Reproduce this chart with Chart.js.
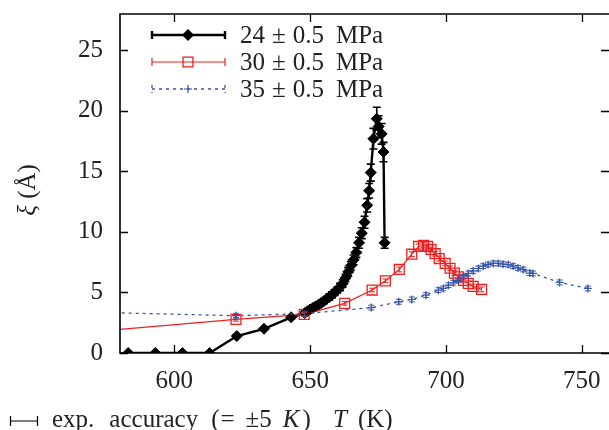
<!DOCTYPE html>
<html><head><meta charset="utf-8">
<script src="https://cdn.jsdelivr.net/npm/chart.js@4/dist/chart.umd.min.js"></script>
<style>html,body{margin:0;padding:0;background:#fff}#wrap{width:609px;height:430px;position:relative}</style>
</head><body><div id="wrap"><canvas id="c" width="609" height="430"></canvas></div>
<script>
// ---- data ----
const xTicks = [600, 650, 700, 750];
const yTicks = [0, 5, 10, 15, 20, 25];
const seriesNames = ['24 ± 0.5 MPa', '30 ± 0.5 MPa', '35 ± 0.5 MPa'];

const tBlack  = [583,593,603,613,623,633,643,648,649,650,651,652,653,654,655,656,657,658,659,660,661,662,663,664,665,666,667,668,669,670,671,671.7,672.3,673.3,674.5,675.2,676.3,677,677.4];
const xiBlack = [0,0,0,0,1.4,2.0,2.95,3.3,3.45,3.6,3.72,3.85,3.98,4.12,4.28,4.45,4.62,4.8,5.0,5.2,5.45,5.75,6.2,6.7,7.2,7.7,8.3,9.1,9.9,10.8,12.2,13.4,14.9,17.7,19.35,18.7,18.1,16.6,9.1];
const errBlack= [0,0,0,0,0.1,0.1,0.15,0.15,0.15,0.15,0.2,0.2,0.2,0.2,0.2,0.2,0.25,0.25,0.25,0.25,0.3,0.3,0.3,0.35,0.35,0.4,0.4,0.45,0.45,0.5,0.55,0.6,0.7,0.85,0.95,0.9,0.85,0.8,0.45];

const tRed  = [560,622.7,647.8,662.7,672.8,677.7,682.8,687.4,689.9,691.7,693.2,694.5,696,697.5,699.7,701.5,703.1,704.5,706.4,708.2,710,713.1];
const xiRed = [1.57,2.78,3.19,4.1,5.2,5.96,6.9,8.16,8.8,8.9,8.8,8.55,8.2,7.8,7.4,7.0,6.6,6.3,6.0,5.75,5.5,5.25];
const errRed= [0.15,0.15,0.15,0.15,0.15,0.15,0.2,0.2,0.2,0.2,0.2,0.2,0.2,0.2,0.2,0.2,0.2,0.2,0.2,0.2,0.2,0.2];

const tBlue  = [560,622.7,648,672.5,682.6,687.4,692.6,697.2,699,700.9,702.7,704.5,706.4,708.2,710,711.9,713.7,715.5,717.4,719.2,721,722.9,724.7,726.5,728.4,730.8,732,741.8,752.2];
const xiBlue = [3.42,3.08,3.25,3.75,4.23,4.42,4.78,5.19,5.33,5.6,5.8,6.0,6.3,6.57,6.78,6.98,7.17,7.3,7.4,7.4,7.34,7.3,7.17,7.03,6.9,6.6,6.57,5.83,5.33];
const errBlue= [0.2,0.2,0.2,0.2,0.2,0.2,0.2,0.2,0.2,0.2,0.2,0.2,0.2,0.2,0.2,0.2,0.2,0.2,0.2,0.2,0.2,0.2,0.2,0.2,0.2,0.2,0.2,0.2,0.2];

// ---- styles ----
const FONT = '"Liberation Serif", "Times New Roman", serif';
const TXT = '#222';
const RED = 'rgb(240,30,30)';
const BLUE = 'rgb(55,85,170)';

const pts = (t, v) => t.map((x, i) => ({x: x, y: v[i]}));

function drawRuns(ctx, x, y, runs, size) {
  let cx = x;
  runs.forEach(r => {
    ctx.font = (r.it ? 'italic ' : '') + size + 'px ' + FONT;
    ctx.fillText(r.t, cx, y);
    cx += ctx.measureText(r.t).width + (r.g || 0);
  });
  return cx;
}

const errorBars = {
  id: 'errorBars',
  afterDatasetsDraw(chart) {
    const ctx = chart.ctx, xs = chart.scales.x, ys = chart.scales.y, a = chart.chartArea;
    ctx.save();
    ctx.beginPath(); ctx.rect(a.left, a.top, a.right - a.left, a.bottom - a.top); ctx.clip();
    chart.data.datasets.forEach(ds => {
      if (!ds.errs) return;
      ctx.strokeStyle = ds.borderColor; ctx.lineWidth = ds.errW; ctx.setLineDash([]);
      ds.data.forEach((p, i) => {
        const e = ds.errs[i]; if (!e) return;
        const px = xs.getPixelForValue(p.x);
        const y1 = ys.getPixelForValue(p.y - e), y2 = ys.getPixelForValue(p.y + e);
        ctx.beginPath();
        ctx.moveTo(px, y1); ctx.lineTo(px, y2);
        ctx.moveTo(px - ds.capW, y1); ctx.lineTo(px + ds.capW, y1);
        ctx.moveTo(px - ds.capW, y2); ctx.lineTo(px + ds.capW, y2);
        ctx.stroke();
      });
    });
    ctx.restore();
  }
};

const frame = {
  id: 'frame',
  afterDraw(chart) {
    const ctx = chart.ctx, a = chart.chartArea, xs = chart.scales.x, ys = chart.scales.y;
    ctx.save();
    ctx.strokeStyle = '#000'; ctx.lineWidth = 1.6; ctx.setLineDash([]);
    ctx.beginPath();
    ctx.moveTo(a.right + 2, a.top); ctx.lineTo(a.left, a.top); ctx.lineTo(a.left, a.bottom); ctx.lineTo(a.right + 2, a.bottom);
    ctx.stroke();
    ctx.lineWidth = 1.3;
    ctx.beginPath();
    xTicks.forEach(v => {
      const px = Math.round(xs.getPixelForValue(v)) + 0.5;
      ctx.moveTo(px, a.bottom); ctx.lineTo(px, a.bottom - 8);
      ctx.moveTo(px, a.top); ctx.lineTo(px, a.top + 8);
    });
    yTicks.forEach(v => {
      const py = Math.round(ys.getPixelForValue(v)) + 0.5;
      ctx.moveTo(a.left, py); ctx.lineTo(a.left + 8, py);
      ctx.moveTo(a.right, py); ctx.lineTo(a.right - 8, py);
    });
    ctx.stroke();

    // legend
    const rows = [35, 62, 89];
    const dsets = chart.data.datasets;
    ctx.textBaseline = 'alphabetic'; ctx.textAlign = 'left';
    dsets.forEach((ds, i) => {
      const y = rows[i];
      ctx.strokeStyle = ds.borderColor; ctx.lineWidth = ds.borderWidth;
      ctx.setLineDash(ds.borderDash || []);
      ctx.beginPath(); ctx.moveTo(152, y); ctx.lineTo(225, y);
      ctx.moveTo(152, y - 4); ctx.lineTo(152, y + 4);
      ctx.moveTo(225, y - 4); ctx.lineTo(225, y + 4);
      ctx.stroke();
      ctx.setLineDash([]);
      ctx.fillStyle = ds.pointBackgroundColor; ctx.strokeStyle = ds.borderColor; ctx.lineWidth = ds.pointBorderWidth;
      Chart.helpers.drawPoint(ctx, {pointStyle: ds.pointStyle, radius: ds.pointRadius, borderWidth: ds.pointBorderWidth, rotation: 0}, 188, y);
      ctx.fillStyle = TXT;
      const parts = seriesNames[i].split(' ');
      drawRuns(ctx, 240, y + 8, [
        {t: parts[0], g: 7}, {t: parts[1], g: 7}, {t: parts[2], g: 12}, {t: parts[3]}
      ], 25);
    });

    // y title
    ctx.save();
    ctx.translate(35, 190); ctx.rotate(-Math.PI / 2);
    ctx.fillStyle = TXT;
    ctx.font = 'italic 25px ' + FONT;
    const w1 = ctx.measureText('ξ').width;
    ctx.font = '25px ' + FONT;
    const w2 = ctx.measureText(' (Å)').width;
    drawRuns(ctx, -(w1 + w2) / 2, 0, [{t: 'ξ', it: true, g: 0}, {t: ' (Å)'}], 25);
    ctx.restore();

    // bottom note + x title
    ctx.strokeStyle = '#000'; ctx.lineWidth = 1.2;
    ctx.beginPath();
    ctx.moveTo(10, 421); ctx.lineTo(38, 421);
    ctx.moveTo(10.5, 416); ctx.lineTo(10.5, 426);
    ctx.moveTo(37.5, 416); ctx.lineTo(37.5, 426);
    ctx.stroke();
    ctx.fillStyle = TXT;
    drawRuns(ctx, 52, 427, [
      {t: 'exp.', g: 15}, {t: 'accuracy', g: 13}, {t: '(', g: 1}, {t: '=', g: 11},
      {t: '±5', g: 11}, {t: 'K', it: true, g: 3}, {t: ')'}
    ], 25);
    drawRuns(ctx, 333, 427, [{t: 'T', it: true, g: 11}, {t: '(K)'}], 25);
    ctx.restore();
  }
};

new Chart(document.getElementById('c').getContext('2d'), {
  type: 'line',
  data: {
    datasets: [
      {label: seriesNames[0], data: pts(tBlack, xiBlack), errs: errBlack, errW: 1.6, capW: 4,
       borderColor: '#000', backgroundColor: '#000', pointBackgroundColor: '#000', borderWidth: 2.4,
       pointStyle: 'rectRot', pointRadius: 5.5, pointBorderWidth: 1, order: 3, tension: 0},
      {label: seriesNames[1], data: pts(tRed, xiRed), errs: errRed, errW: 1, capW: 3,
       borderColor: RED, backgroundColor: 'rgba(0,0,0,0)', pointBackgroundColor: 'rgba(0,0,0,0)', borderWidth: 1.2,
       pointStyle: 'rect', pointRadius: 7, pointBorderWidth: 1.3, order: 2, tension: 0},
      {label: seriesNames[2], data: pts(tBlue, xiBlue), errs: errBlue, errW: 1, capW: 3,
       borderColor: BLUE, backgroundColor: BLUE, pointBackgroundColor: BLUE, borderWidth: 1.3, borderDash: [3, 4],
       pointStyle: 'cross', pointRadius: 4, pointBorderWidth: 1.2, order: 1, tension: 0}
    ]
  },
  options: {
    responsive: false, animation: false, devicePixelRatio: 1,
    layout: {autoPadding: false, padding: {top: 14, right: 0, left: 0, bottom: 0}},
    plugins: {legend: {display: false}, tooltip: {enabled: false}},
    scales: {
      x: {type: 'linear', min: 580, max: 760,
          afterBuildTicks: s => { s.ticks = xTicks.map(v => ({value: v})); },
          afterFit: s => { s.height = 77; s.paddingLeft = 0; s.paddingRight = 0; s.paddingTop = 0; s.paddingBottom = 0; },
          grid: {display: false, drawTicks: false}, border: {display: false},
          ticks: {autoSkip: false, maxRotation: 0, padding: 13, color: TXT, font: {family: FONT, size: 25}}},
      y: {type: 'linear', min: 0, max: 28,
          afterBuildTicks: s => { s.ticks = yTicks.map(v => ({value: v})); },
          afterFit: s => { s.width = 120; s.paddingLeft = 0; s.paddingRight = 0; s.paddingTop = 0; s.paddingBottom = 0; },
          grid: {display: false, drawTicks: false}, border: {display: false},
          ticks: {autoSkip: false, padding: 17, color: TXT, font: {family: FONT, size: 25}}}
    }
  },
  plugins: [errorBars, frame]
});
</script>
</body></html>
